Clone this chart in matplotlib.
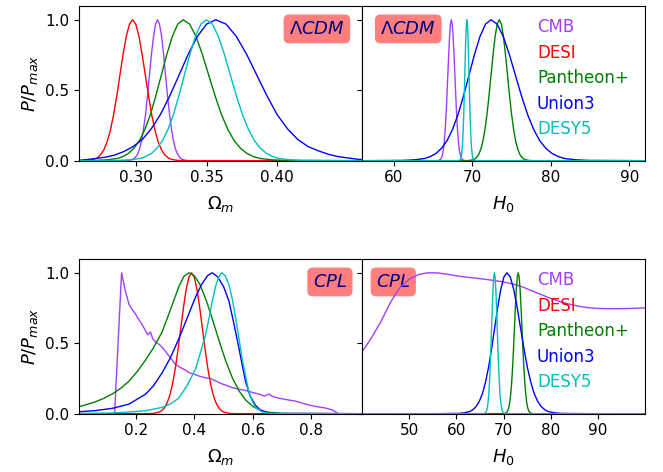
import matplotlib
matplotlib.use('Agg')
import matplotlib.pyplot as plt
from matplotlib.lines import Line2D

# series names and colours (legend order)
names = ['CMB', 'DESI', 'Pantheon+', 'Union3', 'DESY5']
colors = ['#a040ff', 'r', 'g', 'b', 'c']

# peak profiles (P/Pmax), used by the narrow curves
p_peak = [0, 0.0003, 0.0022, 0.0111, 0.0228, 0.0439, 0.0796, 0.1353, 0.2163, 0.3247, 0.4578, 0.6065,
          0.7548, 0.8825, 0.9692, 1.0, 0.9692, 0.8825, 0.7548, 0.6065, 0.4578, 0.3247, 0.2163,
          0.1353, 0.0796, 0.0439, 0.0228, 0.0111, 0.0022, 0.0003, 0]
p_peak_wide = [0, 0.002, 0.006, 0.016, 0.03, 0.052, 0.088, 0.142, 0.222, 0.328, 0.46, 0.607,
               0.755, 0.882, 0.969, 1.0, 0.969, 0.882, 0.755, 0.607, 0.46, 0.328, 0.222,
               0.142, 0.088, 0.052, 0.03, 0.016, 0.006, 0.002, 0]

# ---- LCDM, Omega_m ----
lcdm_om_cmb_x = [0.26, 0.2925, 0.2954, 0.2982, 0.2996, 0.3011, 0.3025, 0.3039, 0.3053, 0.3068, 0.3082,
                 0.3096, 0.3110, 0.3125, 0.3139, 0.3153, 0.3167, 0.3182, 0.3196, 0.3210, 0.3224, 0.3239,
                 0.3253, 0.3267, 0.3281, 0.3296, 0.3310, 0.3324, 0.3353, 0.3381, 0.46]
lcdm_om_desi_x = [0.26, 0.2617, 0.2662, 0.2707, 0.2730, 0.2752, 0.2775, 0.2797, 0.2820, 0.2842, 0.2865,
                  0.2887, 0.2910, 0.2932, 0.2955, 0.2977, 0.2999, 0.3022, 0.3044, 0.3067, 0.3090, 0.3112,
                  0.3135, 0.3157, 0.3180, 0.3202, 0.3225, 0.3247, 0.3292, 0.3337, 0.46]
lcdm_om_pan_x = [0.26, 0.2715, 0.2793, 0.2870, 0.2909, 0.2948, 0.2986, 0.3025, 0.3064, 0.3103, 0.3141,
                 0.3180, 0.3219, 0.3258, 0.3296, 0.3335, 0.3380, 0.3425, 0.3470, 0.3515, 0.3560, 0.3605,
                 0.3650, 0.3695, 0.3740, 0.3785, 0.3830, 0.3875, 0.3965, 0.4055, 0.46]
lcdm_om_union_x = [0.26, 0.2655, 0.2785, 0.285, 0.2915, 0.298, 0.3045, 0.311, 0.3175, 0.324, 0.3305,
                   0.337, 0.3435, 0.35, 0.3565, 0.3638, 0.371, 0.3783, 0.3855, 0.3928, 0.40, 0.4073,
                   0.4145, 0.4218, 0.429, 0.4363, 0.4435, 0.458, 0.46]
lcdm_om_union_p = [0.003, 0.008, 0.025, 0.04, 0.065, 0.1, 0.15, 0.228, 0.33, 0.46, 0.607,
                   0.755, 0.882, 0.969, 1.0, 0.969, 0.882, 0.755, 0.607, 0.458, 0.325, 0.225,
                   0.15, 0.1, 0.07, 0.045, 0.028, 0.009, 0.008]
lcdm_om_desy5_x = [0.26, 0.2878, 0.2956, 0.3033, 0.3072, 0.3111, 0.3149, 0.3188, 0.3227, 0.3266, 0.3304,
                   0.3343, 0.3382, 0.3421, 0.3459, 0.3498, 0.3541, 0.3583, 0.3626, 0.3668, 0.3711, 0.3753,
                   0.3796, 0.3838, 0.3881, 0.3923, 0.3966, 0.4008, 0.4093, 0.4178, 0.46]

# ---- LCDM, H0 (no DESI curve) ----
lcdm_h0_cmb_x = [56, 65.55, 65.775, 66.0, 66.1125, 66.225, 66.3375, 66.45, 66.5625, 66.675, 66.7875,
                 66.9, 67.0125, 67.125, 67.2375, 67.35, 67.4625, 67.575, 67.6875, 67.8, 67.9125, 68.025,
                 68.1375, 68.25, 68.3625, 68.475, 68.5875, 68.7, 68.925, 69.15, 92]
lcdm_h0_pan_x = [56, 69.25, 69.775, 70.3, 70.5625, 70.825, 71.0875, 71.35, 71.6125, 71.875, 72.1375,
                 72.4, 72.6625, 72.925, 73.1875, 73.45, 73.7125, 73.975, 74.2375, 74.5, 74.7625, 75.025,
                 75.2875, 75.55, 75.8125, 76.075, 76.3375, 76.6, 77.125, 77.65, 92]
lcdm_h0_union_x = [56, 61.2, 62.6, 64.0, 64.7, 65.4, 66.1, 66.8, 67.5, 68.2, 68.9,
                   69.6, 70.3, 71.0, 71.7, 72.4, 73.175, 73.95, 74.725, 75.5, 76.275, 77.05,
                   77.825, 78.6, 79.375, 80.15, 80.925, 81.7, 83.25, 84.8, 92]
lcdm_h0_desy5_x = [56, 68.25, 68.385, 68.52, 68.5875, 68.655, 68.7225, 68.79, 68.8575, 68.925, 68.9925,
                   69.06, 69.1275, 69.195, 69.2625, 69.33, 69.3975, 69.465, 69.5325, 69.6, 69.6675, 69.735,
                   69.8025, 69.87, 69.9375, 70.005, 70.0725, 70.14, 70.275, 70.41, 92]

# ---- CPL, Omega_m ----
cpl_om_cmb_x = [0.005, 0.126, 0.138, 0.150, 0.157, 0.163, 0.175, 0.186, 0.197, 0.208, 0.218, 0.232, 0.240,
                0.249, 0.257, 0.266, 0.280, 0.290, 0.305, 0.320, 0.335, 0.350, 0.368, 0.383, 0.400, 0.418,
                0.438, 0.455, 0.470, 0.490, 0.510, 0.530, 0.550, 0.575, 0.600, 0.620, 0.640, 0.655, 0.670,
                0.690, 0.715, 0.745, 0.770, 0.795, 0.820, 0.850, 0.875, 0.893, 0.975]
cpl_om_cmb_p = [0, 0, 0.5, 1.0, 0.93, 0.87, 0.78, 0.74, 0.71, 0.67, 0.64, 0.59, 0.56,
                0.58, 0.53, 0.51, 0.49, 0.47, 0.43, 0.39, 0.35, 0.33, 0.31, 0.29, 0.28, 0.265,
                0.255, 0.25, 0.235, 0.215, 0.2, 0.185, 0.175, 0.165, 0.15, 0.14, 0.125, 0.14, 0.12,
                0.11, 0.1, 0.09, 0.075, 0.06, 0.05, 0.04, 0.025, 0.0, 0]
cpl_om_desi_x = [0.005, 0.242, 0.2605, 0.279, 0.2883, 0.2975, 0.3068, 0.316, 0.3253, 0.3345, 0.3438,
                 0.353, 0.3623, 0.3715, 0.3808, 0.39, 0.3993, 0.4085, 0.4178, 0.427, 0.4363, 0.4455,
                 0.4548, 0.464, 0.4733, 0.4825, 0.4918, 0.501, 0.5195, 0.538, 0.975]
cpl_om_pan_x = [0.005, 0.03, 0.061, 0.09, 0.118, 0.147, 0.175, 0.204, 0.232, 0.26, 0.289, 0.318, 0.346,
                0.364, 0.381, 0.399, 0.418, 0.44, 0.462, 0.484, 0.507, 0.53, 0.553, 0.575, 0.6, 0.625,
                0.655, 0.7, 0.975]
cpl_om_pan_p = [0.05, 0.065, 0.085, 0.11, 0.14, 0.18, 0.23, 0.30, 0.38, 0.47, 0.58, 0.74, 0.9,
                0.975, 1.0, 0.98, 0.92, 0.806, 0.667, 0.52, 0.375, 0.254, 0.161, 0.098, 0.052, 0.025,
                0.01, 0.002, 0]
cpl_om_union_x = [0.005, 0.06, 0.118, 0.175, 0.232, 0.26, 0.289, 0.318, 0.346, 0.375, 0.404, 0.425, 0.445,
                  0.461, 0.48, 0.50, 0.518, 0.535, 0.552, 0.565, 0.575, 0.59, 0.609, 0.625, 0.644, 0.67, 0.975]
cpl_om_union_p = [0.014, 0.022, 0.038, 0.068, 0.138, 0.2, 0.29, 0.4, 0.53, 0.68, 0.83, 0.92, 0.98,
                  1.0, 0.97, 0.9, 0.8, 0.64, 0.47, 0.33, 0.23, 0.13, 0.06, 0.028, 0.01, 0.002, 0]
cpl_om_desy5_x = [0.005, 0.118, 0.175, 0.232, 0.289, 0.318, 0.346, 0.375, 0.404, 0.42, 0.438, 0.45, 0.461,
                  0.472, 0.483, 0.493, 0.505, 0.518, 0.53, 0.541, 0.552, 0.563, 0.575, 0.586, 0.598, 0.609,
                  0.632, 0.66, 0.975]
cpl_om_desy5_p = [0.002, 0.005, 0.012, 0.021, 0.045, 0.07, 0.11, 0.2, 0.32, 0.43, 0.56, 0.68, 0.8,
                  0.9, 0.97, 1.0, 0.98, 0.917, 0.81, 0.68, 0.54, 0.396, 0.27, 0.159, 0.09, 0.047,
                  0.012, 0.002, 0]

# ---- CPL, H0 (no DESI curve) ----
cpl_h0_cmb_x = [40, 42, 44, 46, 48, 50, 52, 54, 56, 58, 60, 62, 64, 66, 68, 70, 72, 74, 76, 78, 80,
                82, 84, 86, 88, 90, 92, 94, 96, 98, 100]
cpl_h0_cmb_p = [0.44, 0.54, 0.655, 0.79, 0.895, 0.955, 0.988, 1.0, 0.999, 0.99, 0.978, 0.97, 0.962,
                0.954, 0.945, 0.935, 0.92, 0.9, 0.872, 0.845, 0.818, 0.795, 0.777, 0.762, 0.752,
                0.747, 0.745, 0.745, 0.746, 0.748, 0.751]
cpl_h0_pan_x = [40, 69.9, 70.3, 70.7, 70.9, 71.1, 71.3, 71.5, 71.7, 71.9, 72.1,
                72.3, 72.5, 72.7, 72.9, 73.1, 73.3, 73.5, 73.7, 73.9, 74.1, 74.3,
                74.5, 74.7, 74.9, 75.1, 75.3, 75.5, 75.9, 76.3, 100]
cpl_h0_union_x = [55, 60.3, 61.6, 62.9, 63.55, 64.2, 64.85, 65.5, 66.15, 66.8, 67.45,
                  68.1, 68.75, 69.4, 70.05, 70.7, 71.425, 72.15, 72.875, 73.6, 74.325, 75.05,
                  75.775, 76.5, 77.225, 77.95, 78.675, 79.4, 80.85, 82.3, 89]
cpl_h0_desy5_x = [40, 65.65, 65.95, 66.25, 66.4, 66.55, 66.7, 66.85, 67.0, 67.15, 67.3,
                  67.45, 67.6, 67.75, 67.9, 68.05, 68.2, 68.35, 68.5, 68.65, 68.8, 68.95,
                  69.1, 69.25, 69.4, 69.55, 69.7, 69.85, 70.15, 70.45, 100]


def draw_panel(ax, curves, xlim, xticks, xlabel, tag, tag_x):
    for name, x, p in curves:
        ax.plot(x, p, color=colors[names.index(name)], lw=1.0, zorder=2)
    ax.set_xlim(xlim)
    ax.set_xticks(xticks)
    ax.set_xlabel(xlabel, fontsize=13, labelpad=6)
    ax.text(tag_x, 0.85, tag, transform=ax.transAxes, ha='center', va='center',
            fontsize=13, color='navy', zorder=1,
            bbox=dict(boxstyle='round', facecolor='red', alpha=0.5, edgecolor='none'))


fig, axes = plt.subplots(2, 2, figsize=(6.63, 4.72), dpi=100, sharey='row')
fig.subplots_adjust(left=0.1196, right=0.9729, top=0.988, bottom=0.1235, wspace=0, hspace=0.632)

draw_panel(axes[0, 0],
           [('CMB', lcdm_om_cmb_x, p_peak), ('DESI', lcdm_om_desi_x, p_peak),
            ('Pantheon+', lcdm_om_pan_x, p_peak_wide), ('Union3', lcdm_om_union_x, lcdm_om_union_p),
            ('DESY5', lcdm_om_desy5_x, p_peak_wide)],
           (0.26, 0.46), [0.30, 0.35, 0.40], r'$\Omega_m$', r'$\Lambda CDM$', 0.84)
draw_panel(axes[0, 1],
           [('CMB', lcdm_h0_cmb_x, p_peak), ('Pantheon+', lcdm_h0_pan_x, p_peak),
            ('Union3', lcdm_h0_union_x, p_peak_wide), ('DESY5', lcdm_h0_desy5_x, p_peak)],
           (56, 92), [60, 70, 80, 90], r'$H_0$', r'$\Lambda CDM$', 0.163)
draw_panel(axes[1, 0],
           [('CMB', cpl_om_cmb_x, cpl_om_cmb_p), ('DESI', cpl_om_desi_x, p_peak),
            ('Pantheon+', cpl_om_pan_x, cpl_om_pan_p), ('Union3', cpl_om_union_x, cpl_om_union_p),
            ('DESY5', cpl_om_desy5_x, cpl_om_desy5_p)],
           (0.005, 0.975), [0.2, 0.4, 0.6, 0.8], r'$\Omega_m$', r'$CPL$', 0.886)
draw_panel(axes[1, 1],
           [('CMB', cpl_h0_cmb_x, cpl_h0_cmb_p), ('Pantheon+', cpl_h0_pan_x, p_peak),
            ('Union3', cpl_h0_union_x, p_peak_wide), ('DESY5', cpl_h0_desy5_x, p_peak)],
           (40, 100), [50, 60, 70, 80, 90], r'$H_0$', r'$CPL$', 0.11)

for row in range(2):
    axes[row, 0].set_ylim(0, 1.1)
    axes[row, 0].set_yticks([0.0, 0.5, 1.0])
    axes[row, 0].set_ylabel(r'$P/P_{max}$', fontsize=13)
    # legend with coloured text only
    handles = [Line2D([], [], color=c) for c in colors]
    axes[row, 1].legend(handles, names, loc='upper left', bbox_to_anchor=(0.565, 1.015),
                        handlelength=0, handletextpad=0, frameon=False,
                        labelcolor='linecolor', fontsize=12, labelspacing=0.45)

for ax in axes.flat:
    ax.tick_params(labelsize=11)

fig.savefig('out.png', dpi=100)
